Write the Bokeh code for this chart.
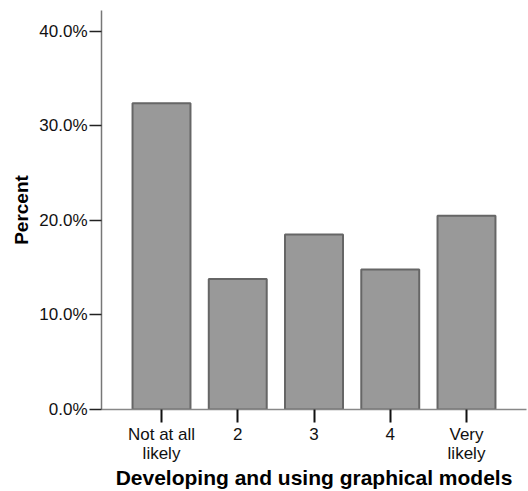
from bokeh.plotting import figure
from bokeh.models import FixedTicker, PrintfTickFormatter, Range1d, ColumnDataSource
from bokeh.embed import file_html
from bokeh.resources import INLINE

categories = ["Not at all\nlikely", "2", "3", "4", "Very\nlikely"]
percents = [32.4, 13.8, 18.5, 14.8, 20.5]
y_ticks = [0, 10, 20, 30, 40]

xs = list(range(len(categories)))
src = ColumnDataSource(dict(x=xs, top=percents))

p = figure(width=528, height=491, output_backend="svg", toolbar_location=None,
           x_range=Range1d(-0.787, 4.787), y_range=Range1d(0, 42.2),
           min_border_left=101, min_border_right=2, min_border_top=10, min_border_bottom=82)
p.outline_line_color = None
p.xgrid.grid_line_color = None
p.ygrid.grid_line_color = None

p.vbar(x="x", top="top", width=0.76, source=src, fill_color="#999999",
       line_color="#666666", line_width=2)

font = "Liberation Sans"
# y axis
p.yaxis.ticker = FixedTicker(ticks=y_ticks)
p.yaxis.formatter = PrintfTickFormatter(format="%.1f%%")
p.yaxis.axis_label = "Percent"
p.yaxis.axis_label_text_font = font
p.yaxis.axis_label_text_font_style = "bold"
p.yaxis.axis_label_text_font_size = "19px"
p.yaxis.axis_label_text_color = "#000000"
p.yaxis.axis_label_standoff = 4
p.yaxis.major_label_text_font = font
p.yaxis.major_label_text_font_size = "17px"
p.yaxis.major_label_text_color = "#111111"
p.yaxis.major_label_standoff = 2
p.yaxis.major_tick_out = 12
p.yaxis.major_tick_in = 0
p.yaxis.minor_tick_line_color = None
p.yaxis.axis_line_color = "#777777"
p.yaxis.axis_line_width = 1.5
p.yaxis.major_tick_line_color = "#222222"
p.yaxis.major_tick_line_width = 1.5

# x axis
p.xaxis.ticker = FixedTicker(ticks=xs)
p.xaxis.major_label_overrides = {i: c for i, c in zip(xs, categories)}
p.xaxis.axis_label = "Developing and using graphical models"
p.xaxis.axis_label_text_font = font
p.xaxis.axis_label_text_font_style = "bold"
p.xaxis.axis_label_text_font_size = "21px"
p.xaxis.axis_label_text_color = "#000000"
p.xaxis.axis_label_standoff = 0
p.xaxis.major_label_text_font = font
p.xaxis.major_label_text_font_size = "17px"
p.xaxis.major_label_text_line_height = 1.0
p.xaxis.major_label_text_color = "#111111"
p.xaxis.major_label_standoff = 2
p.xaxis.major_tick_out = 13
p.xaxis.major_tick_in = 0
p.xaxis.minor_tick_line_color = None
p.xaxis.axis_line_color = "#888888"
p.xaxis.axis_line_width = 1.5
p.xaxis.major_tick_line_color = "#111111"
p.xaxis.major_tick_line_width = 2

open("out.html", "w").write(file_html(p, INLINE))
